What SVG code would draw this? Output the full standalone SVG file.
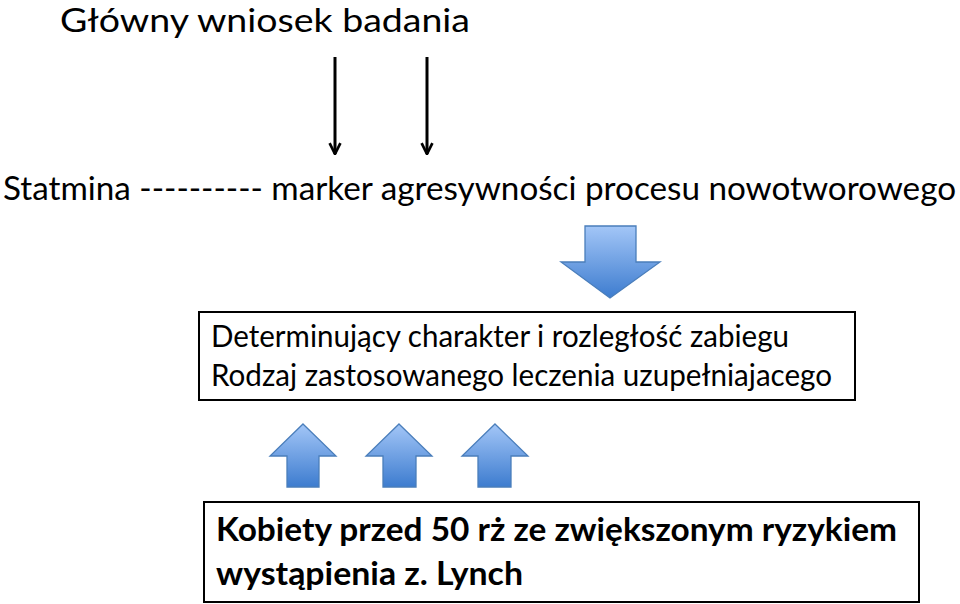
<svg xmlns="http://www.w3.org/2000/svg" width="960" height="604" viewBox="0 0 960 604">
<style>
  text { font-family: Lato, "Open Sans", "Liberation Sans", sans-serif; fill: #000; }
  .t1 { font-size: 32px; }
  .t2 { font-size: 33px; }
  .t3 { font-size: 30px; }
  .t4 { font-size: 33px; font-weight: bold; }
  .box { fill: #fff; stroke: #000; stroke-width: 2; }
  .blk { fill: url(#blue); stroke: #4a7ebb; stroke-width: 1.3; }
  .ln { stroke: #000; stroke-width: 3; fill: none; }
</style>
<defs>
  <linearGradient id="blue" x1="0" y1="0" x2="0" y2="1">
    <stop offset="0" stop-color="#a3c6f7"/>
    <stop offset="1" stop-color="#3d7ccf"/>
  </linearGradient>
  <marker id="ah" viewBox="0 0 10 10" refX="9" refY="5" markerWidth="4.5" markerHeight="4.5" orient="auto" markerUnits="strokeWidth">
    <path d="M1,1 L9,5 L1,9" fill="none" stroke="#000" stroke-width="2"/>
  </marker>
</defs>
<g id="title"><text class="t1" x="60" y="32" textLength="410" lengthAdjust="spacingAndGlyphs">Główny wniosek badania</text></g>
<g id="connectors">
  <line class="ln" x1="335" y1="57" x2="335" y2="154" marker-end="url(#ah)"/>
  <line class="ln" x1="427" y1="57" x2="427" y2="154" marker-end="url(#ah)"/>
  <path class="blk" d="M585,226 H636 V262 H660 L610,298 L561,262 H585 Z"/>
  <path class="blk" d="M303,424 L336,456 H319 V487 H287 V456 H270 Z"/>
  <path class="blk" d="M399,424 L432,456 H416 V487 H383 V456 H366 Z"/>
  <path class="blk" d="M495,424 L528,456 H511 V487 H478 V456 H462 Z"/>
</g>
<g id="statmina"><text class="t2" x="3" y="200" textLength="953" lengthAdjust="spacingAndGlyphs">Statmina ---------- marker agresywności procesu nowotworowego</text></g>
<g id="box1">
  <rect class="box" x="199" y="312" width="656" height="88"/>
  <text class="t3" x="211" y="347" textLength="578" lengthAdjust="spacingAndGlyphs">Determinujący charakter i rozległość zabiegu</text>
  <text class="t3" x="211" y="386" textLength="621" lengthAdjust="spacingAndGlyphs">Rodzaj zastosowanego leczenia uzupełniajacego</text>
</g>
<g id="box2">
  <rect class="box" x="204" y="502" width="715" height="100"/>
  <text class="t4" x="216" y="541" textLength="681" lengthAdjust="spacingAndGlyphs">Kobiety przed 50 rż ze zwiększonym ryzykiem</text>
  <text class="t4" x="216" y="585" textLength="307" lengthAdjust="spacingAndGlyphs">wystąpienia z. Lynch</text>
</g>
</svg>
